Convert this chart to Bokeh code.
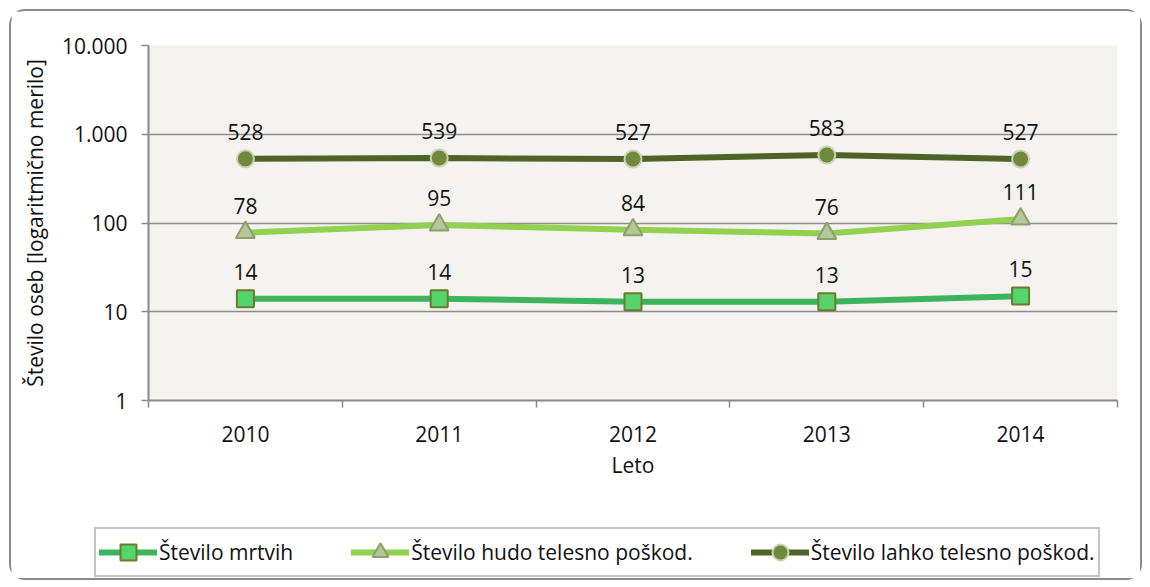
from bokeh.plotting import figure
from bokeh.layouts import column
from bokeh.models import FixedTicker, Legend, LegendItem, ColumnDataSource, Range1d
from bokeh.embed import file_html
from bokeh.resources import INLINE
from bokeh.core.properties import value

years = ["2010", "2011", "2012", "2013", "2014"]
mrtvih = [14, 14, 13, 13, 15]
hudo = [78, 95, 84, 76, 111]
lahko = [528, 539, 527, 583, 527]
series_names = ["Število mrtvih", "Število hudo telesno poškod.", "Število lahko telesno poškod."]
y_ticks = [1, 10, 100, 1000, 10000]
y_tick_labels = ["1", "10", "100", "1.000", "10.000"]
x_title = "Leto"
y_title = "Število oseb [logaritmično merilo]"

FONT = "Open Sans"
FS = "21px"

xs = list(range(len(years)))

p = figure(width=1129, height=489,
           x_range=Range1d(-0.5, len(years) - 0.5),
           y_range=Range1d(y_ticks[0], y_ticks[-1]),
           y_axis_type="log",
           output_backend="svg", toolbar_location=None,
           min_border_left=137, min_border_right=23, min_border_top=34,
           min_border_bottom=100)
p.frame_align = False
p.background_fill_color = "#f4f3ef"
p.border_fill_color = "white"
p.outline_line_color = None

# axes
p.xaxis.ticker = FixedTicker(ticks=xs, minor_ticks=[i - 0.5 for i in range(len(years) + 1)])
p.xaxis.major_label_overrides = {i: y for i, y in enumerate(years)}
p.xaxis.major_tick_out = 0
p.xaxis.major_tick_in = 0
p.xaxis.minor_tick_out = 7
p.xaxis.minor_tick_in = 0
p.xaxis.minor_tick_line_color = "#8a8a8a"
p.xaxis.minor_tick_line_width = 1.5
p.xaxis.major_label_standoff = 18
p.xaxis.axis_label = x_title
p.xaxis.axis_label_standoff = 6

p.yaxis.ticker = FixedTicker(ticks=y_ticks, minor_ticks=[])
p.yaxis.major_label_overrides = {t: l for t, l in zip(y_ticks, y_tick_labels)}
p.yaxis.major_tick_out = 7
p.yaxis.major_tick_in = 0
p.yaxis.major_tick_line_color = "#8a8a8a"
p.yaxis.major_tick_line_width = 1.5
p.yaxis.minor_tick_line_color = None
p.yaxis.major_label_standoff = 14
p.yaxis.axis_label = y_title
p.yaxis.axis_label_standoff = 10

for ax in (p.xaxis, p.yaxis):
    ax.axis_line_color = "#8a8a8a"
    ax.axis_line_width = 2
    ax.major_label_text_font = FONT
    ax.major_label_text_font_size = FS
    ax.major_label_text_color = "#111111"
    ax.axis_label_text_font = FONT
    ax.axis_label_text_font_size = FS
    ax.axis_label_text_font_style = "normal"
    ax.axis_label_text_color = "#111111"

p.xgrid.grid_line_color = None
p.ygrid.ticker = FixedTicker(ticks=y_ticks[1:])
p.ygrid.grid_line_color = "#8c8c8c"
p.ygrid.grid_line_width = 1.5

series = [
    (mrtvih, "#3db35b", "square", "#55d46c", "#6d7a30", 17),
    (hudo, "#92d050", "triangle", "#b2c79a", "#8e9e6c", 19),
    (lahko, "#4f6228", "circle", "#6f8a3c", "#c8d2b6", 17),
]

# legend figure (its frame fills the canvas; data lies outside its view)
lf = figure(width=1129, height=78, x_range=Range1d(-100, -99), y_range=Range1d(-100, -99),
            output_backend="svg", toolbar_location=None,
            min_border_left=0, min_border_right=0, min_border_top=0, min_border_bottom=0)
lf.frame_align = False
lf.axis.visible = False
lf.grid.visible = False
lf.outline_line_color = None
lf.background_fill_color = "white"
lf.border_fill_color = "white"

items = []
for (vals, lc, mk, fc, mlc, sz), name in zip(series, series_names):
    src = ColumnDataSource(dict(x=xs, y=vals, lab=[str(v) for v in vals]))
    p.line("x", "y", source=src, line_color=lc, line_width=6, line_cap="round")
    p.scatter("x", "y", source=src, marker=mk, size=sz, fill_color=fc,
              line_color=mlc, line_width=2)
    p.text("x", "y", text="lab", source=src, y_offset=-27, text_align="center",
           text_baseline="middle", text_font=value(FONT), text_font_size=FS,
           text_color="#111111")
    l1 = lf.line("x", "y", source=src, line_color=lc, line_width=6, line_cap="round")
    l2 = lf.scatter("x", "y", source=src, marker=mk, size=sz, fill_color=fc,
                    line_color=mlc, line_width=2)
    items.append(LegendItem(label=name, renderers=[l1, l2]))

legend = Legend(items=items, orientation="horizontal", location=(83, 1))
legend.glyph_width = 58
legend.glyph_height = 40
legend.label_standoff = 2
legend.spacing = 58
legend.padding = 3
legend.margin = 0
legend.label_text_font = FONT
legend.label_text_font_size = FS
legend.label_text_color = "#111111"
legend.border_line_color = "#8a8a8a"
legend.border_line_width = 2
legend.background_fill_color = "white"
legend.background_fill_alpha = 1
lf.add_layout(legend, "center")

layout = column(p, lf, spacing=0)
layout.margin = (9, 0, 0, 9)
layout.styles = {"border": "2px solid #8a8a8a", "border-radius": "16px",
                 "background-color": "white"}

open("out.html", "w").write(file_html(layout, INLINE))
